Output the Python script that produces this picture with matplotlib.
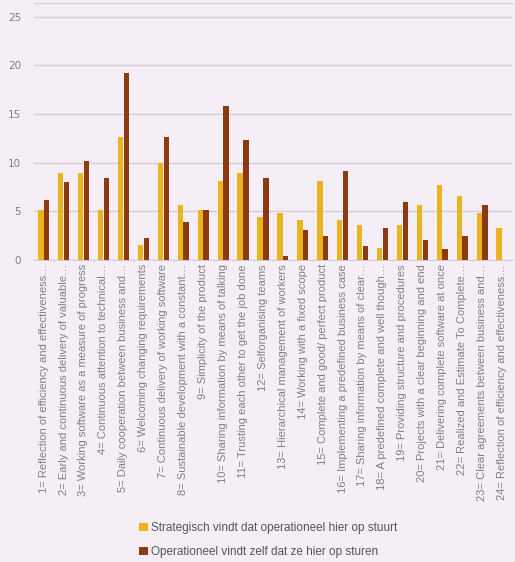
import matplotlib
matplotlib.use("Agg")
import matplotlib.pyplot as plt
import numpy as np

# Chart data
labels = [
    "1= Reflection of efficiency and effectiveness…",
    "2= Early and continuous delivery of valuable…",
    "3= Working software as a measure of progress",
    "4= Continuous attention to technical…",
    "5= Daily cooperation between business and…",
    "6= Welcoming changing requirements",
    "7= Continuous delivery of working software",
    "8= Sustainable development with a constant…",
    "9= Simplicity of the product",
    "10= Sharing information by means of talking",
    "11= Trusting each other to get the job done",
    "12= Selforganising teams",
    "13= Hierarchical management of workers",
    "14= Working with a fixed scope",
    "15= Complete and good/ perfect product",
    "16= Implementing a predefined business case",
    "17= Sharing information by means of clear…",
    "18= A predefined complete and well though…",
    "19= Providing structure and procedures",
    "20= Projects with a clear beginning and end",
    "21= Delivering complete software at once",
    "22= Realized and Estimate To Complete…",
    "23= Clear agreements between business and…",
    "24= Reflection of efficiency and effectiveness…",
]
strategisch = [5.1, 8.9, 8.9, 5.1, 12.6, 1.5, 10.0, 5.6, 5.1, 8.1, 8.9, 4.4,
               4.8, 4.1, 8.1, 4.1, 3.6, 1.2, 3.6, 5.6, 7.7, 6.6, 4.8, 3.3]
operationeel = [6.2, 8.0, 10.2, 8.4, 19.2, 2.3, 12.6, 3.9, 5.1, 15.8, 12.3, 8.4,
                0.4, 3.1, 2.5, 9.1, 1.4, 3.3, 6.0, 2.1, 1.1, 2.5, 5.6, 0.0]
yticks = [0, 5, 10, 15, 20, 25]

bg = "#f5eef6"
yellow = "#e9b41e"
brown = "#8c3a0f"
grey = "#808080"

fig = plt.figure(figsize=(5.15, 5.62), dpi=100, facecolor=bg)
ax = fig.add_axes([0.0654, 0.5374, 0.9286, 0.4573], facecolor=bg)

x = np.arange(len(labels))
w = 0.27
ax.bar(x - 0.14, strategisch, width=w, color=yellow,
       label="Strategisch vindt dat operationeel hier op stuurt", zorder=3)
ax.bar(x + 0.15, operationeel, width=w, color=brown,
       label="Operationeel vindt zelf dat ze hier op sturen", zorder=3)

ax.set_xlim(-0.5, len(labels) - 0.5)
ax.set_ylim(0, 26.4)
ax.set_yticks(yticks)
ax.set_xticks(x)
ax.set_xticklabels(labels, rotation=90, fontsize=8, color=grey,
                   family="Liberation Sans")
ax.tick_params(axis="x", length=0, pad=3)
ax.tick_params(axis="y", length=0, pad=9, labelsize=7.5, labelcolor=grey)
ax.grid(axis="y", color="#d3cdd6", linewidth=1, zorder=0)
for side in ["left", "right"]:
    ax.spines[side].set_visible(False)
ax.spines["top"].set_color("#d3cdd6")
ax.spines["bottom"].set_color("#d3cdd6")

leg = fig.legend(loc="upper left", bbox_to_anchor=(0.25, 0.09),
                 frameon=False, handlelength=0.7,
                 handleheight=0.7, handletextpad=0.25, labelspacing=1.05,
                 prop={"family": "Liberation Sans", "size": 8.5})
for t in leg.get_texts():
    t.set_color("#555555")

fig.savefig("out.png", dpi=100, facecolor=bg)
